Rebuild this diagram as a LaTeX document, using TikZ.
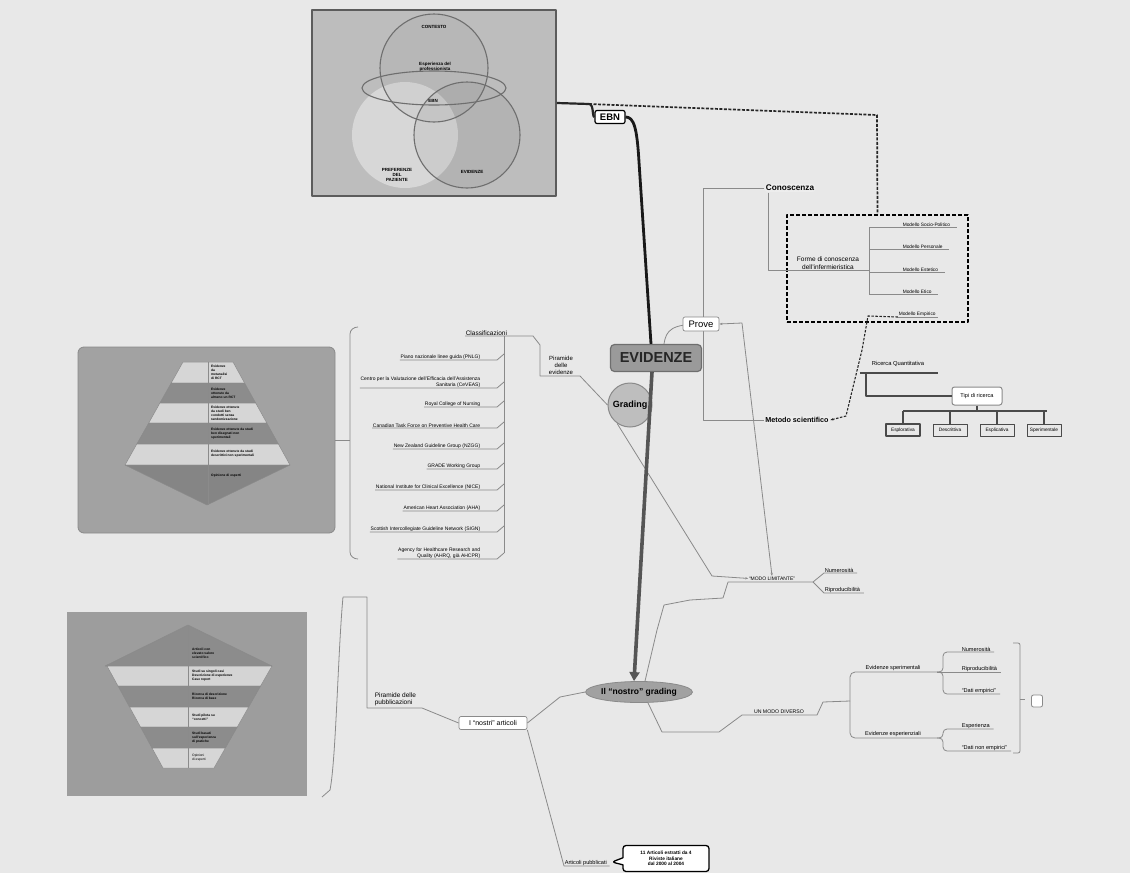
\documentclass[tikz,border=0pt]{standalone}
\usepackage{fontspec}
\setmainfont{Liberation Sans}
\usetikzlibrary{arrows.meta,calc,shapes.geometric,shapes.callouts}
\definecolor{bgc}{HTML}{E8E8E8}
\definecolor{linec}{HTML}{8A8A8A}
\definecolor{dkline}{HTML}{4A4A4A}
\definecolor{vennfill}{HTML}{BDBDBD}
\definecolor{vennedge}{HTML}{5C5C5C}
\definecolor{ringc}{HTML}{6E6E6E}
\definecolor{pyrbox}{HTML}{A2A2A2}
\definecolor{pyrlight}{HTML}{D6D6D6}
\definecolor{pyrdark}{HTML}{8C8C8C}
\definecolor{evfill}{HTML}{9A9A9A}
\definecolor{grfill}{HTML}{BEBEBE}
\definecolor{arrowc}{HTML}{555555}
\definecolor{softbox}{HTML}{EDEDED}
\begin{document}
\begin{tikzpicture}[x=1pt,y=-1pt,line join=round,
  conn/.style={draw=linec,line width=0.8pt},
  darkconn/.style={draw=dkline,line width=1.1pt},
  vennt/.style={font=\fontsize{4.5}{5.2}\selectfont\bfseries,align=center,inner sep=0},
  pyrt/.style={font=\fontsize{3.3}{3.9}\selectfont\bfseries,align=left,inner sep=0,anchor=west},
  item/.style={font=\fontsize{5}{5.7}\selectfont,align=right,inner sep=0.6pt},
  smalltxt/.style={font=\fontsize{5.6}{6.4}\selectfont,inner sep=0.6pt},
  midtxt/.style={font=\fontsize{6.5}{7.5}\selectfont,inner sep=0.6pt},
  modtxt/.style={font=\fontsize{4.8}{5.5}\selectfont,inner sep=0.6pt},
  whitebox/.style={draw=linec,fill=white,rounded corners=2pt,line width=0.7pt},
  softnode/.style={draw=white!80!linec,fill=softbox,rounded corners=3pt,line width=0.6pt,inner sep=1.5pt},
  typebox/.style={draw=dkline,fill=bgc,line width=1pt,minimum width=34pt,minimum height=12pt,inner sep=0,font=\fontsize{4.8}{5.5}\selectfont},
  layer/.style={draw=ringc!80,line width=0.5pt}]

\fill[bgc] (0,0) rectangle (1130,873);
\useasboundingbox (0,0) rectangle (1130,873);

% ---------------- Venn panel ----------------
\node[draw=vennedge,fill=vennfill,line width=1.8pt,minimum width=244pt,minimum height=186pt,inner sep=0] (venn) at (434,103) {};
\fill[white,opacity=0.4] (405,135) circle[radius=53pt];
\fill[black,opacity=0.05] (467,135) circle[radius=53pt];
\fill[black,opacity=0.03] (434,68) circle[radius=54pt];
\draw[ringc,line width=1.1pt] (434,68) circle[radius=54pt];
\draw[ringc,line width=1.1pt] (434,88) ellipse[x radius=72pt,y radius=17pt];
\draw[ringc,line width=1.1pt] (467,135) circle[radius=53pt];
\node[vennt] (vctx) at (434,27) {CONTESTO};
\node[vennt] (vesp) at (435,67) {Esperienza del\\professionista};
\node[vennt] (vebn) at (433,101) {EBN};
\node[vennt] (vpaz) at (397,175) {PREFERENZE\\DEL\\PAZIENTE};
\node[vennt] (vevi) at (472,172) {EVIDENZE};

% ---------------- EBN and main spine ----------------
\node[draw=black,fill=white,line width=1.2pt,rounded corners=2pt,minimum width=30pt,minimum height=13pt,inner sep=0,font=\fontsize{9.5}{10}\selectfont\bfseries] (ebn) at (610,117) {EBN};
\coordinate (split) at (589,104);
\draw[black!85,line width=2.2pt] (venn.east) -- (split) .. controls (594,104) and (592,117) .. (ebn.west);

\node[draw=ringc,fill=evfill,line width=1.2pt,rounded corners=4pt,minimum width=91pt,minimum height=27pt,inner sep=0,text=black!85,font=\fontsize{14.5}{16}\selectfont\bfseries] (evid) at (656,358) {EVIDENZE};
\draw[black!90,line width=2.8pt] (ebn.east) .. controls (634,117) and (637,128) .. (639,162) -- (evid.north -| 651,0);

\node[draw=linec,fill=grfill,circle,line width=1pt,minimum size=44pt,inner sep=0,font=\fontsize{9}{10}\selectfont\bfseries] (grad) at (630,405) {Grading};

\node[draw=linec,fill=grfill!85!black,ellipse,line width=0.8pt,minimum width=88pt,minimum height=21pt,inner sep=0,font=\fontsize{8.5}{9.5}\selectfont\bfseries] (ng) at (639,692) {Il “nostro” grading};

% ---------------- Limiting way (drawn under the spine arrow) ----------------
\node[font=\fontsize{5}{5.6}\selectfont,inner sep=0.6pt,anchor=south] (modo) at (772,581) {“MODO LIMITANTE”};
\draw[conn,-{Stealth[length=3pt]}] (grad.235) -- (712,576) -- (modo.west);

\draw[arrowc,line width=3.6pt,-{Triangle[length=9pt,width=10pt]}] (evid.south -| 652,0) -- (ng.north -| 634,0);

% ---------------- Prove branch ----------------
\node[softnode,font=\fontsize{8.2}{9}\selectfont\bfseries] (conosc) at (790,188) {Conoscenza};
\node[softnode,font=\fontsize{7.2}{8}\selectfont\bfseries] (metodo) at (797,420) {Metodo scientifico};
\draw[conn] (conosc.west) -| (metodo.west -| 703,0) -- (metodo.west);
\draw[conn] (evid.north -| 664,0) .. controls (666,330) and (672,324) .. (701,324);
\node[whitebox,minimum width=36pt,minimum height=14pt,inner sep=0,font=\fontsize{9.5}{10}\selectfont] (prove) at (701,324) {Prove};

% knowledge forms, inside the dashed frame
\node[draw=black,line width=2pt,dash pattern=on 4pt off 2pt,minimum width=181pt,minimum height=107pt,inner sep=0] (dbox) at (877.5,268.5) {};
\draw[black!85,line width=1.7pt,dash pattern=on 3pt off 1.5pt] (split) -- (877,115) -- (dbox.north);
\node[midtxt,align=center,anchor=south] (forme) at (828,270) {Forme di conoscenza\\dell'infermieristica};
\draw[conn] (conosc.south west) ++(4,0) |- (869,270);
\draw[conn] (869,227) -- (869,294);
\foreach \n/\y/\t in {msp/227/{Modello Socio-Politico},mpe/249/{Modello Personale},mes/272/{Modello Estetico},met/294/{Modello Etico}}{
  \node[modtxt,anchor=south west] (\n) at (902,\y) {\t};
  \draw[conn] (869,\y) -- ($(\n.south east)+(6,0)$);
}
\node[modtxt,anchor=south west] (mem) at (898,317) {Modello Empirico};
\draw[conn] (mem.south west) -- ($(mem.south east)+(2,0)$);
\draw[black!85,line width=1.1pt,dash pattern=on 2.5pt off 1.5pt,{Stealth[length=3pt]}-] (metodo.east) -- (846,416) -- (862,350) -- (868,316) -- (mem.south west);

% quantitative research
\node[font=\fontsize{5.8}{6.5}\selectfont,inner sep=0.6pt] (ricq) at (898,364) {Ricerca Quantitativa};
\draw[darkconn,line width=1.5pt] (860,373) -- (938,373);
\node[draw=linec,fill=white,rounded corners=2.5pt,line width=1pt,minimum width=50pt,minimum height=18pt,inner sep=0,font=\fontsize{5.6}{6.3}\selectfont] (tipi) at (977,396) {Tipi di ricerca};
\draw[darkconn] (866,373) |- (tipi.west);
\draw[darkconn] (tipi.south) -- (977,411);
\draw[darkconn] (903,411) -- (1047,411);
\node[typebox,line width=1.6pt] (t1) at (903,430) {Esplorativa};
\node[typebox] (t2) at (950,430) {Descrittiva};
\node[typebox] (t3) at (997,430) {Esplicativa};
\node[typebox] (t4) at (1044,430) {Sperimentale};
\foreach \t in {t1,t2,t3,t4}{\draw[darkconn] (\t.north) -- (\t.north |- 0,411);}

% ---------------- Classifications ----------------
\node[font=\fontsize{6.5}{7.3}\selectfont,inner sep=0.6pt,anchor=south west] (clsf) at (465,336) {Classificazioni};
\node[font=\fontsize{6}{6.9}\selectfont,align=center,inner sep=0.6pt,anchor=south] (pirev) at (561,375) {Piramide\\delle\\evidenze};
\draw[conn] (clsf.south west) -- (533,336) -- (540,345) -- (540,376) -- (580,376) -- (grad.west);
\draw[conn] (504,336) -- (504,553);
\foreach \i/\u/\t in {
 1/360/{Piano nazionale linee guida (PNLG)},
 2/388/{Centro per la Valutazione dell'Efficacia dell'Assistenza\\Sanitaria (CeVEAS)},
 3/407/{Royal College of Nursing},
 4/428/{Canadian Task Force on Preventive Health Care},
 5/449/{New Zealand Guideline Group (NZGG)},
 6/469/{GRADE Working Group},
 7/490/{National Institute for Clinical Excellence (NICE)},
 8/511/{American Heart Association (AHA)},
 9/532/{Scottish Intercollegiate Guideline Network (SIGN)},
 10/559/{Agency for Healthcare Research and\\Quality (AHRQ, già AHCPR)}}{
  \node[item,anchor=south east] (cl\i) at (481,\u) {\t};
  \draw[conn] (cl\i.south west) -- ($(cl\i.south east)+(16,0)$) -- ($(cl\i.south east)+(23,-6)$);
}

% ---------------- Evidence pyramid ----------------
\node[draw=linec,fill=pyrbox,rounded corners=6pt,line width=0.8pt,minimum width=257pt,minimum height=186pt,inner sep=0] (lpyr) at (206.5,440) {};
\draw[conn] (358,327) to[out=180,in=90] (350,334) -- (350,552) to[out=270,in=180] (358,559);
\draw[conn] (lpyr.east) -- (350,440);
\filldraw[layer,fill=pyrlight] (183,362) -- (233,362) -- (244.6,383) -- (171.2,383) -- cycle;
\filldraw[layer,fill=pyrdark] (171.2,383) -- (244.6,383) -- (255.7,403) -- (159.9,403) -- cycle;
\filldraw[layer,fill=pyrlight] (159.9,403) -- (255.7,403) -- (266.8,423) -- (148.7,423) -- cycle;
\filldraw[layer,fill=pyrdark] (148.7,423) -- (266.8,423) -- (278.4,444) -- (136.8,444) -- cycle;
\filldraw[layer,fill=pyrlight] (136.8,444) -- (278.4,444) -- (290,465) -- (125,465) -- cycle;
\filldraw[layer,fill=pyrdark!95!black] (125,465) -- (290,465) -- (207,505) -- cycle;
\draw[layer] (208,362) -- (208,505);
\node[pyrt] (lp1) at (211,372.5) {Evidenze\\da\\metanalisi\\di RCT};
\node[pyrt] (lp2) at (211,393) {Evidenze\\ottenute da\\almeno un RCT};
\node[pyrt] (lp3) at (211,413) {Evidenze ottenute\\da studi ben\\condotti senza\\randomizzazione};
\node[pyrt] (lp4) at (211,433.5) {Evidenze ottenute da studi\\ben disegnati non\\sperimentali};
\node[pyrt] (lp5) at (211,454) {Evidenze ottenute da studi\\descrittivi non sperimentali};
\node[pyrt] (lp6) at (211,476) {Opinione di esperti};

% ---------------- Publications pyramid ----------------
\node[fill=pyrbox!97!black,minimum width=240pt,minimum height=184pt,inner sep=0] (bpyr) at (187,704) {};
\filldraw[layer,fill=pyrdark] (188,625) -- (272,666) -- (105,666) -- cycle;
\filldraw[layer,fill=pyrlight!105] (107,666) -- (272,666) -- (260.6,686) -- (118,686) -- cycle;
\filldraw[layer,fill=pyrdark] (118,686) -- (260.6,686) -- (248.7,707) -- (129.5,707) -- cycle;
\filldraw[layer,fill=pyrlight] (129.5,707) -- (248.7,707) -- (237.3,727) -- (140.5,727) -- cycle;
\filldraw[layer,fill=pyrdark] (140.5,727) -- (237.3,727) -- (225.4,748) -- (152,748) -- cycle;
\filldraw[layer,fill=pyrlight] (152,748) -- (225.4,748) -- (214,768) -- (163,768) -- cycle;
\draw[layer] (188,625) -- (188,768);
\node[pyrt] (bp1) at (192,653) {Articoli con\\elevato valore\\scientifico};
\node[pyrt] (bp2) at (192,676) {Studi su singoli casi\\Descrizione di esperienze\\Case report};
\node[pyrt] (bp3) at (192,696.5) {Ricerca di descrizione\\Ricerca di base};
\node[pyrt] (bp4) at (192,717) {Studi pilota su\\“concetti”};
\node[pyrt] (bp5) at (192,737.5) {Studi basati\\sull'esperienza\\di pratiche};
\node[pyrt,font=\fontsize{3.3}{3.9}\selectfont] (bp6) at (192,758) {Opinioni\\di esperti};

% ---------------- Our articles ----------------
\coordinate (bbr) at (343,597);
\draw[conn] (bbr) .. controls (338,650) and (336,760) .. (330,790) -- (322,797);
\node[font=\fontsize{6.5}{7.5}\selectfont,align=left,inner sep=0.6pt,anchor=south west] (pirpub) at (374,707) {Piramide delle\\pubblicazioni};
\node[whitebox,minimum width=68pt,minimum height=13pt,inner sep=0,font=\fontsize{7}{8}\selectfont] (nostri) at (493,723) {I “nostri” articoli};
\draw[conn] (bbr) -- (367,597) -- (367,708) -- (422,708) -- (nostri.west);
\draw[conn] (nostri.east) -- (560,697) -- (ng.west);
\node[smalltxt,anchor=south west] (artpub) at (564,866) {Articoli pubblicati};
\draw[conn] (nostri.south east) -- (artpub.south west) -- ($(artpub.south east)+(2,0)$);
\node[draw=black,fill=white,line width=1.3pt,rounded corners=3pt,rectangle callout,callout absolute pointer={(612,862)},minimum width=86pt,minimum height=26pt,inner sep=0,align=center,font=\fontsize{4.8}{5.6}\selectfont\bfseries] (box11) at (666,858.5) {11 Articoli estratti da 4\\Riviste italiane\\dal 2000 al 2004};

% ---------------- Limiting way: branches ----------------
\draw[conn] (ng.north -| 645,0) -- (657,630) -- (664,605) -- (690,600) -- (723,598) -- (728,582) -- (813,582);
\draw[conn,{Stealth[length=3pt]}-{Stealth[length=3pt]}] (prove.east) -- (742,323) -- (modo.north);
\node[smalltxt,anchor=south west] (lnum) at (824,573) {Numerosità};
\node[smalltxt,anchor=south west] (lrip) at (824,593) {Riproducibilità};
\draw[conn] (813,582) -- (lnum.south west) -- ($(lnum.south east)+(3,0)$);
\draw[conn] (813,582) -- (lrip.south west) -- ($(lrip.south east)+(3,0)$);

% ---------------- A different way ----------------
\node[font=\fontsize{5.2}{6}\selectfont,inner sep=0.6pt,anchor=south] (diverso) at (779,714) {UN MODO DIVERSO};
\draw[conn] (ng.south -| 648,0) -- (662,732) -- (719,732) -- (742,715) -- (817,715) -- (823,702) -- (850,701);
\node[smalltxt,anchor=south] (esper) at (893,671) {Evidenze sperimentali};
\node[smalltxt,anchor=south] (espz) at (893,737) {Evidenze esperienziali};
\draw[conn,rounded corners=5pt] (850,701) |- (937,672);
\draw[conn,rounded corners=5pt] (850,701) |- (937,738);
\node[smalltxt,anchor=south west] (rnum) at (961,652) {Numerosità};
\node[smalltxt,anchor=south west] (rrip) at (961,672) {Riproducibilità};
\node[smalltxt,anchor=south west] (remp) at (961,694) {“Dati empirici”};
\node[smalltxt,anchor=south west] (resp) at (961,729) {Esperienza};
\node[smalltxt,anchor=south west] (rnon) at (961,751) {“Dati non empirici”};
\draw[conn,rounded corners=4pt] (937,672) -- (943,672) |- ($(rnum.south east)+(3,0)$);
\draw[conn] (937,672) -- ($(rrip.south east)+(3,0)$);
\draw[conn,rounded corners=4pt] (937,672) -- (943,672) |- ($(remp.south east)+(3,0)$);
\draw[conn,rounded corners=4pt] (937,738) -- (943,738) |- ($(resp.south east)+(3,0)$);
\draw[conn,rounded corners=4pt] (937,738) -- (943,738) |- ($(rnon.south east)+(3,0)$);
\node[draw=linec,fill=white,rounded corners=2pt,line width=0.8pt,minimum width=11pt,minimum height=12pt,inner sep=0] (sq) at (1037,701) {};
\draw[conn,rounded corners=2pt] (1013,643) -- (1020,643) -- (1020,753) -- (1013,753);
\draw[conn] (1020,699) -- (1025,699);

\end{tikzpicture}
\end{document}
